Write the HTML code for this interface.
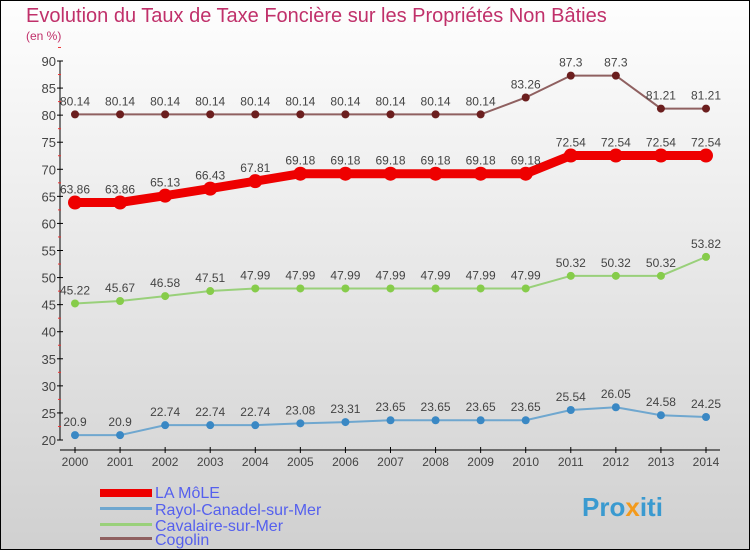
<!DOCTYPE html>
<html><head><meta charset="utf-8"><style>
body{margin:0}
svg{display:block;font-family:"Liberation Sans",sans-serif}
</style></head><body>
<svg width="750" height="550" viewBox="0 0 750 550">
<defs><linearGradient id="bg" x1="0" y1="0" x2="0" y2="1"><stop offset="0" stop-color="#fefefe"/><stop offset="1" stop-color="#d0d0d0"/></linearGradient></defs>
<rect x="0.5" y="0.5" width="749" height="549" fill="url(#bg)" stroke="#000"/>
<text x="26" y="22" font-size="20" fill="#c0306a">Evolution du Taux de Taxe Foncière sur les Propriétés Non Bâties</text>
<text x="26" y="40" font-size="12" fill="#c0306a">(en %)</text>
<g id="axes"></g>
<g id="series"></g>
<g>
<rect x="100" y="489" width="52" height="8" fill="#e00"/>
<text x="155" y="498" font-size="16" fill="#5560ee">LA MôLE</text>
<rect x="100" y="507" width="52" height="3" fill="#6fa7cf"/>
<text x="155" y="515" font-size="16" fill="#5560ee">Rayol-Canadel-sur-Mer</text>
<rect x="100" y="523" width="52" height="3" fill="#99d07a"/>
<text x="155" y="531" font-size="16" fill="#5560ee">Cavalaire-sur-Mer</text>
<rect x="100" y="537" width="52" height="3" fill="#8f6060"/>
<text x="155" y="545" font-size="16" fill="#5560ee">Cogolin</text>
</g>
<text x="582" y="516" font-size="26" font-weight="bold" fill="#3a9ad0">Pro<tspan fill="#f39a1c">x</tspan>iti</text>
</svg>
<script>
const years=[2000,2001,2002,2003,2004,2005,2006,2007,2008,2009,2010,2011,2012,2013,2014];
const yTicks=[20,25,30,35,40,45,50,55,60,65,70,75,80,85,90];
const laMole=[63.86,63.86,65.13,66.43,67.81,69.18,69.18,69.18,69.18,69.18,69.18,72.54,72.54,72.54,72.54];
const rayol=[20.9,20.9,22.74,22.74,22.74,23.08,23.31,23.65,23.65,23.65,23.65,25.54,26.05,24.58,24.25];
const cavalaire=[45.22,45.67,46.58,47.51,47.99,47.99,47.99,47.99,47.99,47.99,47.99,50.32,50.32,50.32,53.82];
const cogolin=[80.14,80.14,80.14,80.14,80.14,80.14,80.14,80.14,80.14,80.14,83.26,87.3,87.3,81.21,81.21];
const NS="http://www.w3.org/2000/svg";
const xS=i=>75+i*(706-75)/(years.length-1);
const yS=v=>440-(v-20)*(440-61)/70;
function mk(tag,at,parent){const e=document.createElementNS(NS,tag);for(const k in at)e.setAttribute(k,at[k]);parent.appendChild(e);return e;}
const ax=document.getElementById('axes');
const ya=mk('line',{x1:60,y1:61,x2:60,y2:440,stroke:'#000'},ax);


const xa=mk('line',{x1:60,y1:450,x2:720,y2:450,stroke:'#000'},ax);


yTicks.forEach(v=>{
 mk('line',{x1:57,x2:63,y1:yS(v),y2:yS(v),stroke:'#000'},ax);
 mk('line',{x1:58,x2:61,y1:yS(v+2.5),y2:yS(v+2.5),stroke:'#e33'},ax);
 const t=mk('text',{x:56,y:yS(v)+5,'text-anchor':'end','font-size':13,fill:'#444'},ax);
 t.textContent=v;
 
 
});
years.forEach((y,i)=>{
 mk('line',{x1:xS(i),x2:xS(i),y1:447,y2:453,stroke:'#000'},ax);
 const t=mk('text',{x:xS(i),y:466,'text-anchor':'middle','font-size':12,fill:'#444'},ax);
 t.textContent=y;
 
 
});
const sg=document.getElementById('series');
function series(data,name,color,pcol,w,r){
 const g=mk('g',{},sg);
 
 
 const l=mk('polyline',{points:data.map((v,i)=>xS(i)+','+yS(v)).join(' '),fill:'none',stroke:color,'stroke-width':w},g);
 
 
 data.forEach((v,i)=>{
  const c=mk('circle',{cx:xS(i),cy:yS(v),r:r,fill:pcol},g);
  
  
  const t=mk('text',{x:xS(i),y:yS(v)-9,'text-anchor':'middle','font-size':12,fill:'#444'},g);
  t.textContent=v;
  
  
 });
}
series(cogolin,'cogolin','#8f6060','#6b1e1e',2,4);
series(cavalaire,'cavalaire','#99d07a','#86cc4a',2,4);
series(rayol,'rayol','#6fa7cf','#3a88c4',2,4);
series(laMole,'la-mole','#e00','#e00',9,7);
</script>
</body></html>
